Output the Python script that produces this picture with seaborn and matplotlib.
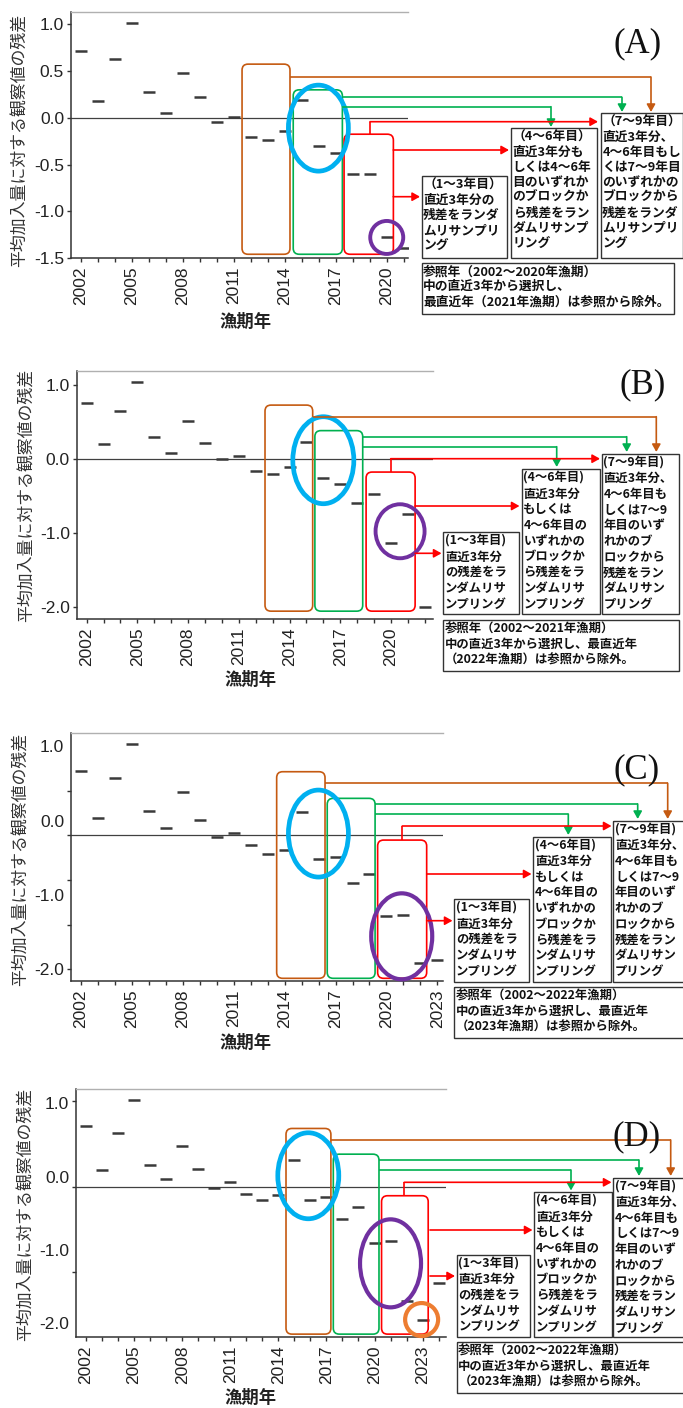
import matplotlib.pyplot as plt
import seaborn as sns
from matplotlib.patches import FancyBboxPatch, Ellipse, Rectangle

# -------------------------------
# Data: residual of observed value vs mean recruitment
# -------------------------------
years_a = list(range(2002, 2022))
resid_a = [0.72, 0.18, 0.63, 1.01, 0.28, 0.05, 0.48, 0.22, -0.04, 0.01,
           -0.20, -0.24, -0.14, 0.19, -0.30, -0.38, -0.60, -0.60, -1.28, -1.39]

years_b = list(range(2002, 2023))
resid_b = [0.76, 0.20, 0.65, 1.04, 0.30, 0.08, 0.51, 0.21, -0.01, 0.04,
           -0.17, -0.21, -0.11, 0.22, -0.26, -0.34, -0.60, -0.47, -1.14, -0.75,
           -2.01]

years_c = list(range(2002, 2024))
resid_c = [0.72, 0.19, 0.645, 1.02, 0.27, 0.08, 0.49, 0.17, -0.02, 0.03,
           -0.11, -0.21, -0.16, 0.26, -0.26, -0.24, -0.53, -0.43, -0.90, -0.89,
           -1.43, -1.40]

years_d = list(range(2002, 2025))
resid_d = [0.71, 0.19, 0.63, 1.01, 0.25, 0.09, 0.48, 0.21, -0.01, 0.05,
           -0.09, -0.16, -0.10, 0.31, -0.16, -0.12, -0.38, -0.24, -0.66, -0.63,
           -1.33, -1.55, -1.12]

# -------------------------------
# Texts
# -------------------------------
ylabel_text = "平均加入量に対する観察値の残差"
xlabel_text = "漁期年"

box13_a = ["（1～3年目）", "直近3年分の", "残差をランダ", "ムリサンプリ", "ング"]
box46_a = ["（4～6年目）", "直近3年分も", "しくは4～6年", "目のいずれか",
           "のブロックか", "ら残差をラン", "ダムリサンプ", "リング"]
box79_a = ["（7～9年目）", "直近3年分、", "4～6年目もし", "くは7～9年目",
           "のいずれかの", "ブロックから", "残差をランダ", "ムリサンプリ", "ング"]
ref_a = ["参照年（2002～2020年漁期）", "中の直近3年から選択し、",
         "最直近年（2021年漁期）は参照から除外。"]

box13 = ["(1～3年目)", "直近3年分", "の残差をラ", "ンダムリサ", "ンプリング"]
box46 = ["(4～6年目)", "直近3年分", "もしくは", "4～6年目の", "いずれかの",
         "ブロックか", "ら残差をラ", "ンダムリサ", "ンプリング"]
box79 = ["(7～9年目)", "直近3年分、", "4～6年目も", "しくは7～9", "年目のいず",
         "れかのブ", "ロックから", "残差をラン", "ダムリサン", "プリング"]
ref_b = ["参照年（2002～2021年漁期）", "中の直近3年から選択し、最直近年",
         "（2022年漁期）は参照から除外。"]
ref_c = ["参照年（2002～2022年漁期）", "中の直近3年から選択し、最直近年",
         "（2023年漁期）は参照から除外。"]

# -------------------------------
# Colours
# -------------------------------
ORANGE = "#C55A11"
GREEN = "#00B050"
RED = "#FF0000"
BLUE = "#00B0F0"
PURPLE = "#7030A0"
ORANGE2 = "#ED7D31"
DASH = "#3a3a3a"

# -------------------------------
# Layout (pixels, data ranges of the annotation boxes)
# -------------------------------
panels = [
    dict(tag="(A)", tag_xy=(638, 44), years=years_a, resid=resid_a,
         rect=(71, 12, 408, 258), xlim=(2001.43, 2021.25), ylim=(-1.5, 1.133),
         yticks=[1.0, 0.5, 0.0, -0.5, -1.0, -1.5],
         ylabels=["1.0", "0.5", "0.0", "-0.5", "-1.0", "-1.5"], yminor=None,
         ylab_xy=(20, 140), xlab_xy=(246, 322), fs=9.2, pitch=1.21,
         boxes=[(2011.49, 2014.31, -1.46, 0.575, ORANGE),
                (2014.50, 2017.39, -1.46, 0.30, GREEN),
                (2017.49, 2020.39, -1.46, -0.175, RED)],
         rings=[(2015.98, -0.11, 60, 86, BLUE, 3.4),
                (2020.0, -1.28, 33, 33, PURPLE, 2.8)],
         links=[([(290, 77), (651, 77), (651, 112)], ORANGE),
                ([(342.3, 97.3), (622, 97.3), (622, 112)], GREEN),
                ([(342.3, 106.7), (551, 106.7), (551, 127)], GREEN),
                ([(370, 134), (370, 121.7), (598, 121.7)], RED),
                ([(393.3, 150), (509, 150)], RED),
                ([(393.3, 196.7), (420, 196.7)], RED)],
         texts=[((421.7, 176, 507.3, 258.3), box13_a),
                ((511, 128.3, 596.7, 258.3), box46_a),
                ((600.7, 113.3, 682.5, 258.3), box79_a),
                ((421.7, 262.7, 674, 314), ref_a)]),
    dict(tag="(B)", tag_xy=(643, 385), years=years_b, resid=resid_b,
         rect=(76.7, 370.7, 432.7, 619.3), xlim=(2001.41, 2022.47), ylim=(-2.17, 1.19),
         yticks=[1.0, 0.0, -1.0, -2.0], ylabels=["1.0", "0.0", "-1.0", "-2.0"],
         yminor=None, ylab_xy=(26.5, 495), xlab_xy=(251, 680), fs=8.9, pitch=1.27,
         boxes=[(2012.55, 2015.37, -2.06, 0.725, ORANGE),
                (2015.50, 2018.33, -2.06, 0.38, GREEN),
                (2018.53, 2021.43, -2.06, -0.18, RED)],
         rings=[(2016.0, -0.02, 61, 87, BLUE, 3.4),
                (2020.54, -0.98, 49, 54, PURPLE, 2.8)],
         links=[([(312.7, 416.7), (656.3, 416.7), (656.3, 452)], ORANGE),
                ([(362.7, 436.7), (626.7, 436.7), (626.7, 452)], GREEN),
                ([(362.7, 446.7), (556.7, 446.7), (556.7, 467)], GREEN),
                ([(390.7, 472.3), (390.7, 458.7), (600, 458.7)], RED),
                ([(415, 506), (519.5, 506)], RED),
                ([(415, 553.3), (441.5, 553.3)], RED)],
         texts=[((443.3, 532.3, 519, 614), box13),
                ((521.7, 469.3, 600, 614), box46),
                ((601.7, 454, 679.3, 614), box79),
                ((443.3, 620, 679.3, 670.7), ref_b)]),
    dict(tag="(C)", tag_xy=(637, 770), years=years_c, resid=resid_c,
         rect=(71, 733.3, 443.3, 981), xlim=(2001.41, 2023.35), ylim=(-1.63, 1.142),
         yticks=[1.0, 0.163, -0.665, -1.497], ylabels=["1.0", "0.0", "-1.0", "-2.0"],
         yminor=[1.0, 0.5, 0.0, -0.5, -1.0, -1.5],
         ylab_xy=(20.5, 859), xlab_xy=(246, 1043), fs=8.9, pitch=1.27,
         boxes=[(2013.53, 2016.38, -1.60, 0.712, ORANGE),
                (2016.51, 2019.33, -1.60, 0.414, GREEN),
                (2019.48, 2022.37, -1.60, -0.053, RED)],
         rings=[(2015.99, 0.02, 60, 87, BLUE, 3.4),
                (2020.9, -1.13, 61, 86, PURPLE, 3.0)],
         links=[([(325, 783.3), (667.7, 783.3), (667.7, 819)], ORANGE),
                ([(375, 804), (637.7, 804), (637.7, 819)], GREEN),
                ([(375, 814), (568.3, 814), (568.3, 835)], GREEN),
                ([(402.3, 840), (402.3, 826), (611.5, 826)], RED),
                ([(426.7, 874), (531.5, 874)], RED),
                ([(426.7, 920.7), (452.5, 920.7)], RED)],
         texts=[((454.3, 899.3, 529.3, 981.7), box13),
                ((533.3, 836.7, 610.7, 981.7), box46),
                ((613.3, 821, 686, 981.7), box79),
                ((454.3, 986.7, 686, 1038.3), ref_c)]),
    dict(tag="(D)", tag_xy=(637, 1137), years=years_d, resid=resid_d,
         rect=(76, 1089.3, 446, 1337.3), xlim=(2001.38, 2024.46), ylim=(-1.757, 1.137),
         yticks=[0.98, 0.11, -0.742, -1.594], ylabels=["1.0", "0.0", "-1.0", "-2.0"],
         yminor=[1.0, 0.0, -1.0],
         ylab_xy=(26, 1214), xlab_xy=(251, 1398), fs=8.9, pitch=1.27,
         boxes=[(2014.48, 2017.28, -1.72, 0.68, ORANGE),
                (2017.43, 2020.28, -1.72, 0.38, GREEN),
                (2020.44, 2023.35, -1.72, -0.105, RED)],
         rings=[(2015.87, 0.128, 61, 86, BLUE, 3.4),
                (2021.0, -0.894, 61, 88, PURPLE, 3.0),
                (2022.94, -1.55, 33, 33, ORANGE2, 3.0)],
         links=[([(331, 1140), (670.7, 1140), (670.7, 1176)], ORANGE),
                ([(379, 1160), (639, 1160), (639, 1176)], GREEN),
                ([(379, 1170), (571, 1170), (571, 1190.5)], GREEN),
                ([(404.3, 1195.7), (404.3, 1182.3), (611.5, 1182.3)], RED),
                ([(430, 1230), (532.5, 1230)], RED),
                ([(430, 1276), (455, 1276)], RED)],
         texts=[((456.7, 1255, 530, 1336.7), box13),
                ((534.3, 1192.3, 611.7, 1336.7), box46),
                ((613.3, 1177.7, 686, 1336.7), box79),
                ((456.7, 1341.7, 686, 1393.3), ref_c)]),
]

# -------------------------------
# Figure setup
# -------------------------------
sns.set_theme(style="ticks")
plt.rcParams["font.family"] = ["Liberation Sans", "Noto Sans CJK JP", "DejaVu Sans"]
plt.rcParams["axes.unicode_minus"] = False
JP = ["Noto Sans CJK JP", "DejaVu Sans"]

W, H = 683, 1408
fig = plt.figure(figsize=(W / 100, H / 100), dpi=100)
fig.patch.set_facecolor("white")

# overlay in pixel coordinates for the explanatory boxes and arrows
ov = fig.add_axes([0, 0, 1, 1], zorder=10)
ov.set_xlim(0, W)
ov.set_ylim(H, 0)
ov.axis("off")
ov.patch.set_alpha(0)


def to_px(ax, x, y):
    disp = ax.transData.transform((x, y))
    return ov.transData.inverted().transform(disp)


for p in panels:
    left, top, right, bottom = p["rect"]
    ax = fig.add_axes([left / W, 1 - bottom / H, (right - left) / W, (bottom - top) / H])

    sns.scatterplot(x=p["years"], y=p["resid"], marker="_", s=80, color=DASH,
                    linewidth=1.8, ax=ax, legend=False, zorder=3)
    ax.axhline(0, color="#404040", lw=0.9, zorder=2)

    ax.set_xlim(p["xlim"])
    ax.set_ylim(p["ylim"])

    last = int(p["xlim"][1])
    ax.set_xticks(list(range(2002, last + 1, 3)))
    ax.set_xticks(list(range(2002, last + 1)), minor=True)
    ax.tick_params(axis="x", which="both", length=3, width=1, color="#333333",
                   labelsize=12.5, labelcolor="#222222", labelrotation=90, pad=3)

    ax.set_yticks(p["yticks"], labels=p["ylabels"])
    if p["yminor"] is None:
        ax.tick_params(axis="y", which="major", length=3, width=1, color="#333333",
                       labelsize=12.5, labelcolor="#222222", pad=2)
    else:
        ax.set_yticks(p["yminor"], minor=True)
        ax.tick_params(axis="y", which="major", length=0, labelsize=12.5,
                       labelcolor="#222222", pad=5)
        ax.tick_params(axis="y", which="minor", length=3, width=1, color="#333333")

    ax.spines["right"].set_visible(False)
    ax.spines["top"].set_color("#b0b0b0")
    ax.spines["top"].set_linewidth(1.0)
    for s in ("left", "bottom"):
        ax.spines[s].set_color("#333333")
        ax.spines[s].set_linewidth(1.1)

    ax.set_ylabel(ylabel_text, fontsize=12.2, family=JP, color="#333333", va="center")
    ax.yaxis.set_label_coords(*p["ylab_xy"], transform=ov.transData)
    ax.set_xlabel(xlabel_text, fontsize=12.5, family=JP, fontweight="bold",
                  color="#222222", va="center")
    ax.xaxis.set_label_coords(*p["xlab_xy"], transform=ov.transData)

    # rounded boxes around year blocks
    for x0, x1, y0, y1, col in p["boxes"]:
        px0, py0 = to_px(ax, x0, y1)
        px1, py1 = to_px(ax, x1, y0)
        ov.add_patch(FancyBboxPatch((px0, py0), px1 - px0, py1 - py0,
                                    boxstyle="round,pad=0,rounding_size=6",
                                    fill=False, ec=col, lw=1.2))

    # highlight rings
    for cx, cy, w, h, col, lw in p["rings"]:
        pcx, pcy = to_px(ax, cx, cy)
        ov.add_patch(Ellipse((pcx, pcy), w, h, fill=False, ec=col, lw=lw))

    # connector arrows
    for pts, col in p["links"]:
        xs = [q[0] for q in pts[:-1]]
        ys = [q[1] for q in pts[:-1]]
        if len(xs) > 1:
            ov.plot(xs, ys, color=col, lw=1.2, solid_capstyle="butt")
        ov.annotate("", xy=pts[-1], xytext=pts[-2],
                    arrowprops=dict(arrowstyle="-|>,head_length=0.5,head_width=0.28",
                                    color=col, lw=1.2, shrinkA=0, shrinkB=0,
                                    mutation_scale=9))

    # explanation boxes
    for (x0, y0, x1, y1), lines in p["texts"]:
        ov.add_patch(Rectangle((x0, y0), x1 - x0, y1 - y0, fill=False,
                               ec="#333333", lw=1.0))
        ov.text(x0 + 1.6, y0 + 2.5, "\n".join(lines), ha="left", va="top",
                fontsize=p["fs"], fontweight="bold", family=JP, color="#111111",
                linespacing=p["pitch"])

    ov.text(*p["tag_xy"], p["tag"], ha="center", va="center", fontsize=25,
            family=["Liberation Serif", "DejaVu Serif"], color="#111111")

fig.savefig("out.png", dpi=100, facecolor="white")
